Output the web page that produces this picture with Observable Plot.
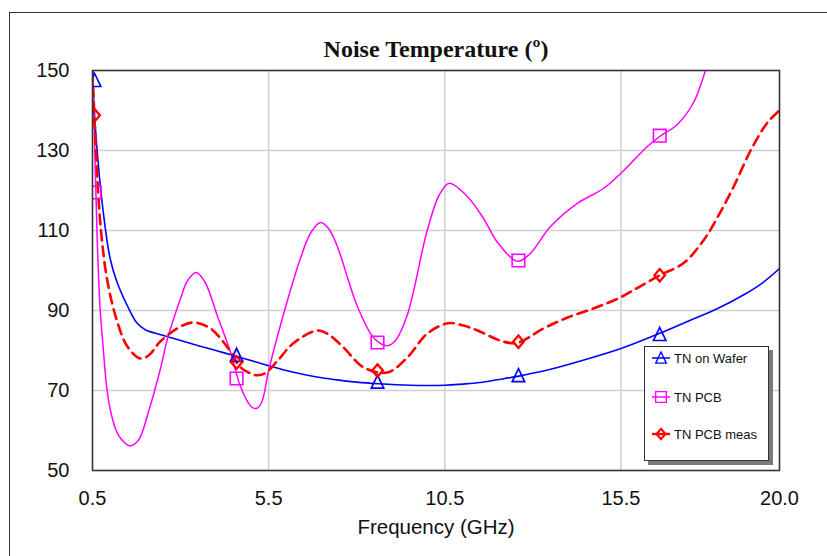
<!DOCTYPE html>
<html><head><meta charset="utf-8">
<script src="https://cdn.jsdelivr.net/npm/d3@7"></script>
<script src="https://cdn.jsdelivr.net/npm/@observablehq/plot@0.6"></script>
<style>
body{margin:0;overflow:hidden;background:#fff}
#wrap{position:relative;width:827px;height:556px;overflow:hidden}
#outer{position:absolute;left:9px;top:12px;width:900px;height:700px;border:1.5px solid #333;pointer-events:none}
#legend{position:absolute;left:644px;top:346px;width:123px;height:113px;border:1px solid #333;background:#fff;box-shadow:4px 4px 0 #7a7a7a;font-family:"Liberation Sans",Arial,sans-serif;font-size:13px;color:#111}
.row{position:absolute;left:6px;height:20px;display:flex;align-items:center}
.row svg{margin-right:3px}
</style></head>
<body><div id="wrap"><div id="outer"></div></div>
<script>
const title = "Noise Temperature (º)";
const xLabel = "Frequency (GHz)";
const xTicks = [0.5, 5.5, 10.5, 15.5, 20.0];
const yTicks = [50, 70, 90, 110, 130, 150];
const seriesNames = ["TN on Wafer", "TN PCB", "TN PCB meas"];

// curve samples
const waferFreq = [0.5,0.55,0.65,0.8,1.0,1.2,1.5,1.75,2.0,2.5,3.0,3.5,4.0,4.6,5.0,5.5,6.0,6.5,7.0,7.5,8.0,8.6,9.5,10.5,11.0,11.5,12.0,12.6,13.5,14.4,15.5,16.6,17.5,18.2,19.0,19.5,20.0];
const waferTN   = [149,140,128,115,103,97,91,87,85.2,83.8,82.5,81.2,80,78.5,77.5,76.2,75,74,73.2,72.6,72.1,71.7,71.3,71.3,71.6,72,72.7,73.6,75.3,77.5,80.5,84.3,87.7,90.3,94,96.8,100.5];

const pcbFreq = [0.5,0.57,0.64,0.72,0.81,0.9,1.01,1.15,1.3,1.55,1.8,2.1,2.43,2.63,3.0,3.2,3.45,3.7,4.05,4.42,4.7,5.0,5.15,5.3,5.5,5.92,6.4,6.7,6.97,7.2,7.45,8.02,8.5,8.87,9.1,9.44,10.0,10.35,10.63,11.14,11.6,12.0,12.56,12.9,13.5,14.26,15.0,15.58,16.25,16.6,17.1,17.56,17.9,18.2];
const pcbTN   = [152,128,106,90,80,71,65,60.5,58,56.2,57.5,65,75.5,83,93,97.5,99.5,97,88.5,79.5,71,66,65.5,67,75,89,103,109.5,112,110.5,106,91,83,81.2,82.5,89,110,119,121.8,118.5,113,107,102.3,104,111,116.8,120.5,125,131,133.5,136.5,142,150,158];

const measFreq = [0.5,0.59,0.73,0.93,1.21,1.49,1.86,2.1,2.43,3.0,3.37,3.85,4.33,4.7,5.0,5.18,5.4,5.74,6.2,6.88,7.2,7.62,8.19,8.87,9.44,10.0,10.58,11.0,11.43,12.17,12.59,13.3,14.0,14.72,15.49,16.0,16.6,17.27,17.84,18.24,18.69,19.18,19.66,20.0];
const measTN   = [150,131.5,111,97,87,81,78,78.8,82.3,86,87,85.5,80.8,75.8,74.2,73.8,74.3,77.3,81.8,85,84,80.8,75.8,74.5,78.3,84.2,86.8,86.3,85,82.2,82,85.5,88.3,90.5,93.3,95.8,98.8,101.8,107.5,113.3,120.8,130,137,140];

// marker points
const markerFreq = [0.56, 4.59, 8.59, 12.59, 16.6];
const markerWafer = [147.5, 78.8, 72.1, 73.7, 84.0];
const markerPcb = [119.5, 73.0, 82.0, 102.5, 133.7];
const markerMeas = [138.8, 77.0, 75.0, 82.2, 98.8];

const zip = (xs, ys) => xs.map((x, i) => ({x, y: ys[i]}));
const wafer = zip(waferFreq, waferTN);
const pcb = zip(pcbFreq, pcbTN);
const meas = zip(measFreq, measTN);
const mWafer = zip(markerFreq, markerWafer);
const mPcb = zip(markerFreq, markerPcb);
const mMeas = zip(markerFreq, markerMeas);

const colors = ["#0000ff", "#ff00ff", "#ff0000"];

// marker shapes (open triangle, square, diamond)
const triangleSym = {draw(c) { c.moveTo(0, -7); c.lineTo(6.2, 6); c.lineTo(-6.2, 6); c.closePath(); }};
const squareSym = {draw(c) { c.moveTo(-6.3, -6.3); c.lineTo(6.3, -6.3); c.lineTo(6.3, 6.3); c.lineTo(-6.3, 6.3); c.closePath(); }};
const diamondSym = {draw(c) { c.moveTo(0, -6.2); c.lineTo(5.3, 0); c.lineTo(0, 6.2); c.lineTo(-5.3, 0); c.closePath(); }};
const syms = [triangleSym, squareSym, diamondSym];

const chart = Plot.plot({
  width: 827, height: 556,
  marginLeft: 92, marginRight: 48, marginTop: 70, marginBottom: 86,
  style: {fontFamily: "'Liberation Sans', Arial, sans-serif", fontSize: "20px", background: "none", color: "#111"},
  x: {domain: [0.5, 20]},
  y: {domain: [50, 150]},
  marks: [
    Plot.gridX([5.5, 10.5, 15.5], {stroke: "#cfcfcf", strokeOpacity: 1, strokeWidth: 1.5}),
    Plot.gridY([70, 90, 110, 130], {stroke: "#cfcfcf", strokeOpacity: 1, strokeWidth: 1.5}),
    Plot.line(wafer, {x: "x", y: "y", stroke: colors[0], strokeWidth: 1.6, curve: "catmull-rom", clip: true}),
    Plot.line(pcb, {x: "x", y: "y", stroke: colors[1], strokeWidth: 1.5, curve: "catmull-rom", clip: true}),
    Plot.line(meas, {x: "x", y: "y", stroke: colors[2], strokeWidth: 2.6, strokeDasharray: "10,6", curve: "catmull-rom", clip: true}),
    Plot.dot(mWafer, {x: "x", y: "y", symbol: syms[0], stroke: colors[0], fill: "none", strokeWidth: 1.7, clip: true}),
    Plot.dot(mPcb, {x: "x", y: "y", symbol: syms[1], stroke: colors[1], fill: "none", strokeWidth: 1.6, clip: true}),
    Plot.dot(mMeas, {x: "x", y: "y", symbol: syms[2], stroke: colors[2], fill: "none", strokeWidth: 2.3, clip: true}),
    Plot.frame({stroke: "#333", strokeWidth: 1.6}),
    Plot.axisX(xTicks, {tickSize: 0, tickPadding: 20, tickFormat: d => d.toFixed(1), label: null}),
    Plot.axisY(yTicks, {tickSize: 0, tickPadding: 23, label: null}),
    Plot.text([xLabel], {text: d => d, frameAnchor: "bottom", dy: 57, lineAnchor: "middle", fontSize: 20.5}),
    Plot.text([title], {text: d => d, frameAnchor: "top", dy: -21, lineAnchor: "middle", fontSize: 24, fontWeight: "bold", fontFamily: "'Liberation Serif', 'Times New Roman', serif"})
  ]
});

const wrap = document.getElementById("wrap");
wrap.insertBefore(chart, wrap.firstChild);

// legend
const legend = document.createElement("div");
legend.id = "legend";
const rowTops = [1, 40, 77];
seriesNames.forEach((name, i) => {
  const row = document.createElement("div");
  row.className = "row";
  row.style.top = rowTops[i] + "px";
  const p = d3.path();
  syms[i].draw(p);
  row.innerHTML = `<svg width="20" height="20"><line x1="1" x2="19" y1="10" y2="10" stroke="${colors[i]}" stroke-width="${i===2?2.4:1.5}"/><path d="${p}" transform="translate(10,10) scale(0.85)" fill="none" stroke="${colors[i]}" stroke-width="${i===2?2.4:1.6}"/></svg><span>${name}</span>`;
  legend.appendChild(row);
});
wrap.appendChild(legend);
</script>
</body></html>
